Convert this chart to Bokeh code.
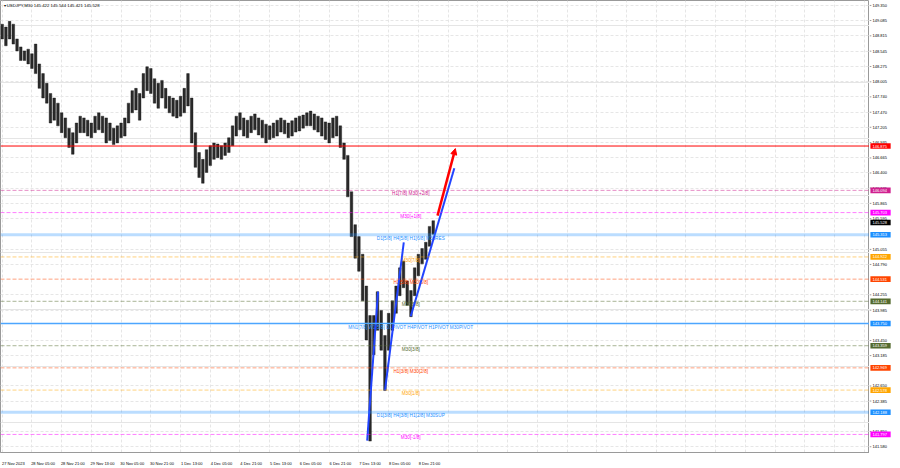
from bokeh.plotting import figure
from bokeh.layouts import row
from bokeh.models import FixedTicker, Range1d, Label, Arrow, NormalHead, Span, Grid, ColumnDataSource
from bokeh.embed import file_html
from bokeh.resources import INLINE
from bokeh.core.properties import value

# ---- price data: 2-hour slots (4 x M30 bars), highs and lows ----
slot_high = [149.02, 148.97, 149.07, 149.02, 148.76, 148.62, 148.55, 148.58, 148.50, 148.67,
             148.32, 148.15, 147.98, 147.80, 147.72, 147.63, 147.46, 147.37, 147.19, 147.11,
             147.28, 147.40, 147.37, 147.33, 147.28, 147.40, 147.46, 147.40, 147.37, 147.28,
             147.19, 147.23, 147.28, 147.37, 147.63, 147.85, 147.89, 147.80, 148.15, 148.27,
             148.24, 148.06, 147.98, 148.03, 147.89, 147.75, 147.72, 147.68, 147.75, 147.89,
             148.15, 147.72, 147.11, 146.76, 146.64, 146.81, 146.88, 146.93, 146.91, 146.88,
             146.93, 147.02, 147.23, 147.40, 147.46, 147.37, 147.33, 147.40, 147.44, 147.37,
             147.33, 147.26, 147.23, 147.28, 147.33, 147.37, 147.33, 147.28, 147.32, 147.37,
             147.40, 147.42, 147.46, 147.49, 147.44, 147.40, 147.37, 147.30, 147.28, 147.37,
             147.40, 147.23, 146.93, 146.71, 146.07, 145.49, 145.28, 144.97, 144.41, 143.89,
             143.89, 144.31, 143.98, 143.54, 143.93, 144.15, 144.41, 144.73, 144.85, 144.50,
             144.33, 144.73, 144.97, 145.07, 145.18, 145.46, 145.56]
slot_low = [148.76, 148.64, 148.76, 148.67, 148.55, 148.38, 148.38, 148.32, 148.24, 148.15,
            147.89, 147.72, 147.63, 147.28, 147.33, 147.23, 147.11, 147.02, 146.85, 146.73,
            146.93, 147.11, 147.11, 147.05, 147.02, 147.11, 147.16, 147.11, 146.93, 146.97,
            146.90, 146.93, 147.02, 147.05, 147.28, 147.46, 147.51, 147.33, 147.72, 147.85,
            147.80, 147.63, 147.54, 147.72, 147.54, 147.46, 147.40, 147.37, 147.40, 147.46,
            147.58, 146.93, 146.50, 146.32, 146.22, 146.41, 146.53, 146.64, 146.67, 146.64,
            146.71, 146.76, 146.88, 147.05, 147.16, 147.05, 147.02, 147.11, 147.16, 147.07,
            147.02, 146.93, 146.99, 147.02, 147.05, 147.12, 147.09, 147.02, 147.05, 147.12,
            147.14, 147.19, 147.23, 147.23, 147.16, 147.12, 147.05, 146.99, 146.93, 147.02,
            147.05, 146.85, 146.64, 145.98, 145.28, 144.90, 144.67, 144.15, 143.46, 141.68,
            143.20, 143.63, 143.28, 142.57, 143.28, 143.63, 143.93, 144.24, 144.38, 144.07,
            143.87, 144.24, 144.59, 144.80, 144.88, 145.11, 145.32]
slot_bar = list(range(0, 4 * len(slot_high), 4))   # M30 bar index of each slot

# ---- time axis ----
time_labels = ["27 Nov 2023", "28 Nov 05:00", "28 Nov 21:00", "29 Nov 13:00", "30 Nov 05:00",
               "30 Nov 21:00", "1 Dec 13:00", "4 Dec 05:00", "4 Dec 21:00", "5 Dec 13:00",
               "6 Dec 05:00", "6 Dec 21:00", "7 Dec 13:00", "8 Dec 05:00", "8 Dec 21:00"]
time_tick_bars = [32 * i for i in range(len(time_labels))]
grid_bars = [32 * i for i in range(30)]

# ---- price axis ----
price_ticks = [149.350, 149.085, 148.815, 148.545, 148.275, 148.005, 147.740, 147.470, 147.205,
               146.935, 146.665, 146.400, 146.135, 145.865, 145.595, 145.055, 144.790, 144.255,
               143.985, 143.450, 143.185, 142.650, 142.385, 141.850, 141.580]

# ---- Murrey levels ----
level_price = [146.875, 146.094, 145.703, 145.313, 144.922, 144.531, 144.141,
               143.750, 143.359, 142.969, 142.578, 142.188, 141.797]
level_text = ["", "H1[7/8] M30[+2/8]", "M30[+1/8]", "D1[5/8] H4[5/8] H1[6/8] M30RES",
              "M30[7/8]", "H1[5/8] M30[6/8]", "M30[5/8]",
              "MN1[7/8] W1[5/8] D1PIVOT H4PIVOT H1PIVOT M30PIVOT", "M30[3/8]",
              "H1[3/8] M30[2/8]", "M30[1/8]", "D1[3/8] H4[3/8] H1[2/8] M30SUP", "M30[-1/8]"]
level_color = ["#ff0000", "#d0208f", "#ff00ff", "#1e90ff", "#ffa500", "#ff4500", "#556b2f",
               "#1e90ff", "#556b2f", "#ff4500", "#ffa500", "#1e90ff", "#ff00ff"]
level_line_color = ["#ff0000", "#d0208f", "#ff00ff", "#1e90ff", "#ffa500", "#ff4500", "#556b2f",
                    "#4da6ff", "#556b2f", "#ff4500", "#ffa500", "#1e90ff", "#ff00ff"]
level_dash = ["solid", "4 2", "4 2", "solid", "4 2", "4 2", "4 2",
              "solid", "4 2", "4 2", "4 2", "solid", "4 2"]
level_width = [1, 1, 1, 3, 1, 1, 1, 1.3, 1, 1, 1, 3, 1]
level_alpha = [1.0, 0.5, 0.5, 0.3, 0.5, 0.5, 0.5, 1.0, 0.5, 0.5, 0.5, 0.3, 0.5]
level_text_bar = 439.8

current_price = 145.528
ohlc = (145.422, 145.544, 145.421, 145.528)

# ---- drawn trend lines and projection arrow (bar index, price) ----
trend_x0 = [392.9, 412.1, 439.8]
trend_y0 = [141.687, 142.573, 143.877]
trend_x1 = [404.6, 432.3, 486.7]
trend_y1 = [144.311, 145.180, 146.483]
arrow_start = (468.6, 145.649)
arrow_end = (487.8, 146.830)

FONT = "Liberation Sans"
FH = 452
Y_RANGE = Range1d(141.479, 149.437)

p = figure(frame_width=869, frame_height=FH,
           x_range=Range1d(-1.8, 933.6), y_range=Y_RANGE,
           y_axis_location=None, output_backend="svg", toolbar_location=None,
           min_border_left=0, min_border_top=0, min_border_right=0, min_border_bottom=8,
           background_fill_color="white", border_fill_color="white",
           outline_line_color="#9a9a9a")

# grid
p.xgrid.ticker = FixedTicker(ticks=grid_bars)
p.xgrid.grid_line_color = "#e6e6e6"
p.xgrid.grid_line_dash = "3 2"
p.add_layout(Grid(dimension=1, ticker=FixedTicker(ticks=price_ticks),
                  grid_line_color="#e6e6e6", grid_line_dash="3 2"))

# levels
for pr, col, dsh, w, a in zip(level_price, level_line_color, level_dash, level_width, level_alpha):
    p.add_layout(Span(location=pr, dimension="width", line_color=col, line_dash=dsh,
                      line_width=w, line_alpha=a))

# candles (slot ranges)
src = ColumnDataSource(dict(x=slot_bar, top=slot_high, bottom=slot_low))
p.vbar(x="x", top="top", bottom="bottom", width=2.8, source=src,
       fill_color="#2a2a2a", line_color="#111111", line_width=0.4)

# level texts
txt_idx = [i for i, t in enumerate(level_text) if t]
p.text(x=[level_text_bar] * len(txt_idx), y=[level_price[i] for i in txt_idx],
       text=[level_text[i] for i in txt_idx], text_color=[level_color[i] for i in txt_idx],
       text_font=value(FONT), text_font_size="4.7px", text_align="center",
       text_baseline="top", y_offset=1)

# trend lines
p.segment(x0=trend_x0, y0=trend_y0, x1=trend_x1, y1=trend_y1,
          line_color="#2244ff", line_width=2)
p.add_layout(Arrow(end=NormalHead(size=6, fill_color="#ff0000", line_color="#ff0000"),
                   x_start=arrow_start[0], y_start=arrow_start[1],
                   x_end=arrow_end[0], y_end=arrow_end[1],
                   line_color="#ff0000", line_width=2.5))

# time axis
p.xaxis.ticker = FixedTicker(ticks=[b + 12 for b in time_tick_bars])
p.xaxis.major_label_overrides = {b + 12: lab for b, lab in zip(time_tick_bars, time_labels)}
p.xaxis.major_tick_line_color = None
p.xaxis.minor_tick_line_color = None
p.xaxis.axis_line_color = "#9a9a9a"
p.xaxis.major_label_standoff = 2
p.xaxis.major_label_text_font = FONT
p.xaxis.major_label_text_font_size = "4px"
p.xaxis.major_label_text_color = "#000000"

# symbol title
p.add_layout(Label(x=3, y=FH - 2, x_units="screen", y_units="screen",
                   text="\u25be USDJPY,M30  " + " ".join(f"{v:.3f}" for v in ohlc),
                   text_font=FONT, text_font_size="4.3px", text_baseline="top",
                   text_color="#000000"))

# ---- price scale panel (shares the y scale) ----
s = figure(frame_width=23, frame_height=FH, x_range=Range1d(0, 1), y_range=Y_RANGE,
           x_axis_location=None, y_axis_location=None,
           output_backend="svg", toolbar_location=None,
           min_border_left=0, min_border_top=0, min_border_right=0, min_border_bottom=8,
           background_fill_color="white", border_fill_color="white",
           outline_line_color=None)
s.xgrid.visible = False
s.ygrid.visible = False

s.segment(x0=[0] * len(price_ticks), x1=[0.08] * len(price_ticks), y0=price_ticks,
          y1=price_ticks, line_color="#9a9a9a", line_width=1)
s.text(x=[0.13] * len(price_ticks), y=price_ticks, text=[f"{t:.3f}" for t in price_ticks],
       text_font=value(FONT), text_font_size="4px", text_color="#000000",
       text_baseline="middle", text_align="left")

tag_price = level_price + [current_price]
tag_color = level_color + ["#000000"]
s.quad(left=[0.04] * len(tag_price), right=[0.92] * len(tag_price),
       top=[t + 0.05 for t in tag_price], bottom=[t - 0.05 for t in tag_price],
       fill_color=tag_color, line_color=None)
s.text(x=[0.13] * len(tag_price), y=tag_price, text=[f"{t:.3f}" for t in tag_price],
       text_font=value(FONT), text_font_size="4px", text_color="#ffffff",
       text_baseline="middle", text_align="left")

layout = row(p, s, spacing=0)
open("out.html", "w").write(file_html(layout, INLINE))
